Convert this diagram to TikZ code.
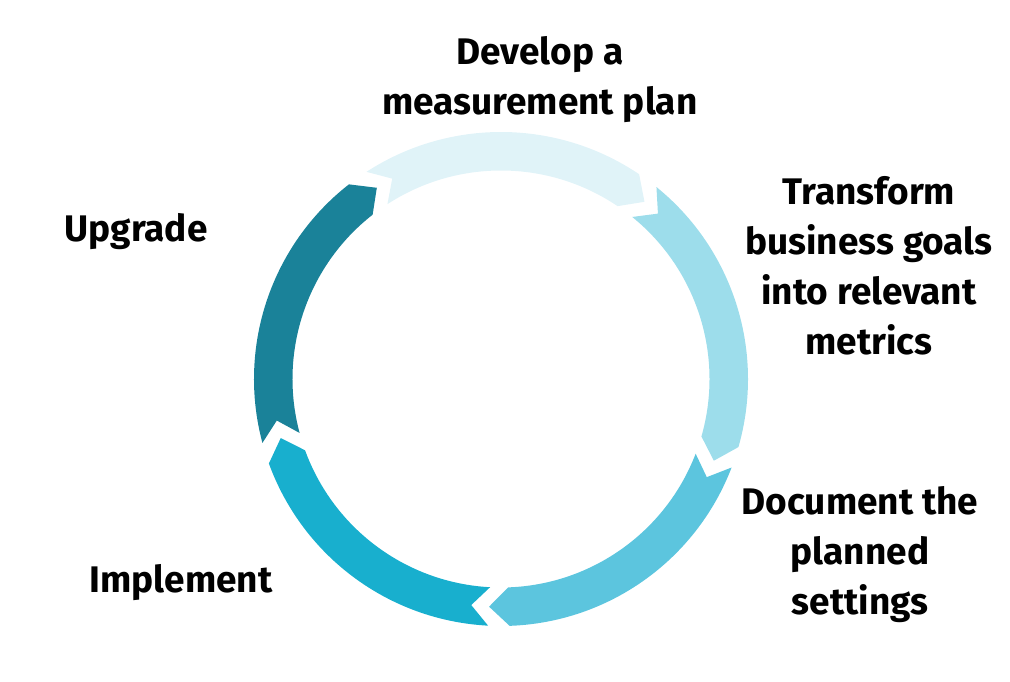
\documentclass[tikz,border=0pt]{standalone}
\usepackage{fontspec}
\setmainfont{Fira Sans}
\definecolor{cA}{RGB}{224,243,248}
\definecolor{cB}{RGB}{157,221,235}
\definecolor{cC}{RGB}{92,197,222}
\definecolor{cD}{RGB}{24,175,206}
\definecolor{cE}{RGB}{26,130,153}
\tikzset{
  lbl/.style={align=center, anchor=base, inner sep=0pt, font=\bfseries\fontsize{37}{50}\selectfont, text=black}
}
\newcommand{\chevseg}[2]{%
  \fill[#2] (#1:247) arc[start angle=#1, end angle=#1-67, radius=247]
    -- (#1-72:228) -- (#1-67:208.5)
    arc[start angle=#1-67, end angle=#1, radius=208.5]
    -- (#1-4.5:228) -- cycle;}
\begin{document}
\begin{tikzpicture}[x=1pt,y=1pt]
\useasboundingbox (0,0) rectangle (1010,681);
\begin{scope}[shift={(501,302)}]
  \chevseg{123}{cA}
  \chevseg{51}{cB}
  \chevseg{-21}{cC}
  \chevseg{-93}{cD}
  \chevseg{195}{cE}
\end{scope}
\node[lbl] (develop) at (540,566) {Develop a\\measurement plan};
\node[lbl] (transform) at (869,326) {Transform\\business goals\\into relevant\\metrics};
\node[lbl] (document) at (860,67) {Document the\\planned\\settings};
\node[lbl] (upgrade) at (136,439) {Upgrade};
\node[lbl] (implement) at (181,89) {Implement};
\end{tikzpicture}
\end{document}
